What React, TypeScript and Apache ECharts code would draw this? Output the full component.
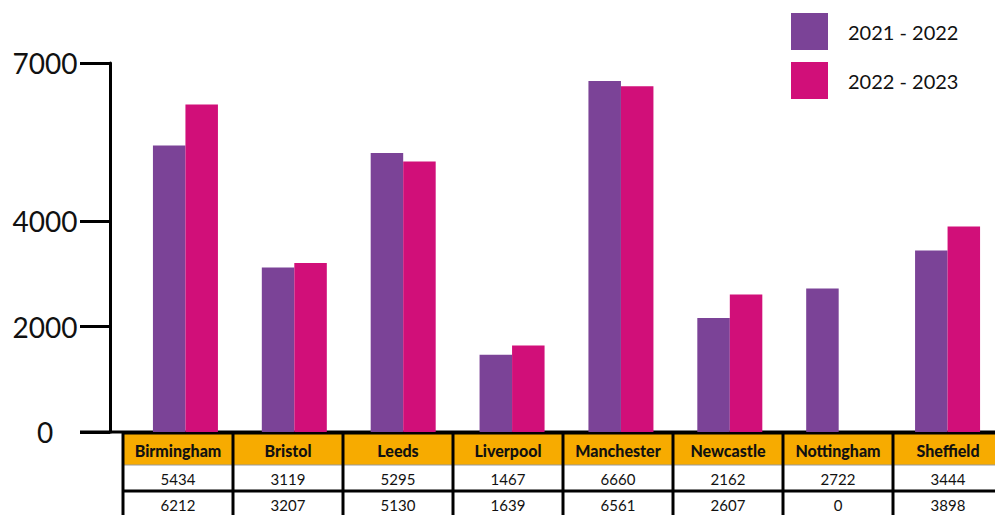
import React, { useEffect, useRef } from "react";
import * as echarts from "echarts";

const categories = ["Birmingham", "Bristol", "Leeds", "Liverpool", "Manchester", "Newcastle", "Nottingham", "Sheffield"];
const values2122 = [5434, 3119, 5295, 1467, 6660, 2162, 2722, 3444];
const values2223 = [6212, 3207, 5130, 1639, 6561, 2607, 0, 3898];
const seriesNames = ["2021 - 2022", "2022 - 2023"];
const yTicks = [0, 2000, 4000, 7000];

const PURPLE = "#7B4397";
const PINK = "#D10F79";
const ORANGE = "#F7AB00";
const FONT = "Lato";

// layout constants
const GRID_TOP = 63;
const GRID_BOTTOM = 83;
const GRID_LEFT = 131;
const GRID_RIGHT = -7;
const H = 515;
const BASE_Y = H - GRID_BOTTOM;

const TABLE_LEFT = 123;
const COL_W = 110;
const HEAD_TOP = 433;
const HEAD_H = 32;
const ROW_H = 26;

function buildTable() {
  const els: any[] = [];
  const rows = [values2122, values2223];
  categories.forEach((c, i) => {
    const x = TABLE_LEFT + i * COL_W;
    els.push({
      type: "rect",
      shape: { x, y: HEAD_TOP, width: COL_W, height: HEAD_H },
      style: { fill: ORANGE },
      silent: true,
    });
    els.push({
      type: "text",
      x: x + COL_W / 2,
      y: HEAD_TOP + HEAD_H / 2 + 1,
      style: {
        text: c,
        fill: "#111",
        font: `900 16px ${FONT}`,
        align: "center",
        verticalAlign: "middle",
      },
      silent: true,
    });
    rows.forEach((r, k) => {
      els.push({
        type: "text",
        x: x + COL_W / 2,
        y: HEAD_TOP + HEAD_H + k * ROW_H + ROW_H / 2 + 1,
        style: {
          text: String(r[i]),
          fill: "#111",
          font: `15px ${FONT}`,
          align: "center",
          verticalAlign: "middle",
        },
        silent: true,
      });
    });
  });
  const right = TABLE_LEFT + categories.length * COL_W;
  els.push({
    type: "line",
    shape: { x1: TABLE_LEFT, y1: HEAD_TOP + HEAD_H, x2: right, y2: HEAD_TOP + HEAD_H },
    style: { stroke: "#999", lineWidth: 1 },
    silent: true,
  });
  els.push({
    type: "line",
    shape: { x1: TABLE_LEFT, y1: HEAD_TOP + HEAD_H + ROW_H, x2: right, y2: HEAD_TOP + HEAD_H + ROW_H },
    style: { stroke: "#000", lineWidth: 3 },
    silent: true,
  });
  els.push({
    type: "line",
    shape: { x1: TABLE_LEFT, y1: HEAD_TOP, x2: right, y2: HEAD_TOP },
    style: { stroke: "#000", lineWidth: 3 },
    silent: true,
  });
  for (let i = 0; i <= categories.length; i++) {
    const x = TABLE_LEFT + i * COL_W;
    els.push({
      type: "line",
      shape: { x1: x, y1: HEAD_TOP, x2: x, y2: H + 5 },
      style: { stroke: "#000", lineWidth: 3 },
      silent: true,
    });
  }
  // baseline
  els.push({
    type: "line",
    shape: { x1: 80, y1: BASE_Y, x2: 995, y2: BASE_Y },
    style: { stroke: "#000", lineWidth: 3 },
    silent: true,
  });
  return els;
}

export default function App() {
  const ref = useRef<HTMLDivElement>(null);
  useEffect(() => {
    if (!ref.current) return;
    const chart = echarts.init(ref.current, null, { renderer: "svg" });
    chart.setOption({
      animation: false,
      backgroundColor: "#fff",
      textStyle: { fontFamily: FONT },
      legend: {
        orient: "vertical",
        left: 791,
        top: 13,
        padding: 0,
        itemWidth: 37,
        itemHeight: 37,
        itemGap: 12,
        icon: "rect",
        data: seriesNames,
        textStyle: { fontSize: 20, color: "#111", fontFamily: FONT, padding: [0, 0, 0, 15] },
      },
      grid: {
        top: GRID_TOP,
        bottom: GRID_BOTTOM,
        left: GRID_LEFT,
        right: GRID_RIGHT,
        outerBoundsMode: "none",
        containLabel: false,
      },
      xAxis: {
        type: "category",
        data: categories,
        axisLine: { show: false },
        axisTick: { show: false },
        axisLabel: { show: false },
      },
      yAxis: {
        type: "value",
        min: 0,
        max: 7000,
        interval: 1000,
        offset: GRID_LEFT - 110,
        axisLine: { show: true, lineStyle: { color: "#000", width: 3 } },
        axisTick: { show: true, length: 30, lineStyle: { color: "#000", width: 3 }, customValues: yTicks },
        axisLabel: {
          customValues: yTicks,
          formatter: (v: number) => String(v),
          margin: 65,
          align: "center",
          fontSize: 28,
          color: "#111",
          fontFamily: FONT,
        },
        splitLine: { show: false },
      },
      graphic: buildTable(),
      series: [
        {
          name: seriesNames[0],
          type: "bar",
          data: values2122,
          barWidth: 32.5,
          barGap: "0%",
          itemStyle: { color: PURPLE },
        },
        {
          name: seriesNames[1],
          type: "bar",
          data: values2223,
          barWidth: 32.5,
          barGap: "0%",
          itemStyle: { color: PINK },
        },
      ],
    });
    return () => chart.dispose();
  }, []);
  return <div ref={ref} style={{ width: 995, height: 515, position: "absolute", left: 0, top: 0 }} />;
}
